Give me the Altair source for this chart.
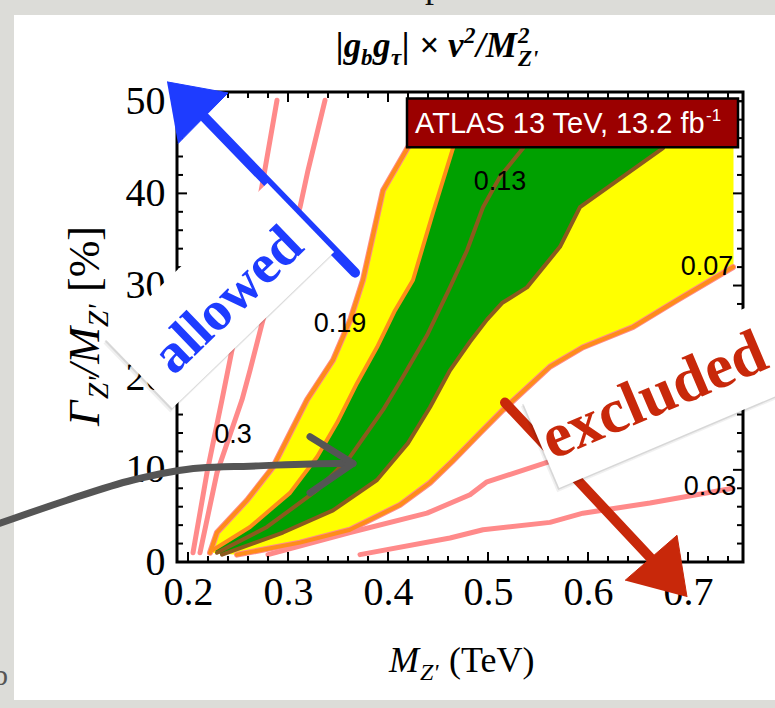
import altair as alt
import pandas as pd

# ---------------- plot geometry ----------------
W, H = 566, 470                 # plot area in px
PAD = {"left": 177, "top": 92, "right": 32, "bottom": 146}
X_DOMAIN = [0.189, 0.755]       # M_Z' [TeV]
Y_DOMAIN = [0.0, 51.0]          # Gamma_Z'/M_Z' [%]

SERIF = "Liberation Serif"
SANS = "Liberation Sans"
YELLOW, GREEN = "#FFFF00", "#00A000"
ORANGE, BROWN, PINK = "#FF8C1A", "#8B5A1E", "#FF8A8A"
BLUE, RED, GREY = "#1E3CFF", "#C8280A", "#555555"

# ---------------- contour traces ----------------
# steep contours on the low-mass side
steep_a_x = [0.205, 0.219, 0.234, 0.244, 0.275, 0.289]
steep_a_y = [1.0, 9.7, 17.6, 23.0, 41.4, 50.1]
steep_b_x = [0.212, 0.229, 0.254, 0.262, 0.280, 0.312, 0.320, 0.337]
steep_b_y = [1.0, 9.7, 17.6, 20.8, 28.4, 38.5, 42.5, 50.1]
# shallow contours on the high-mass side
low_c_x = [0.280, 0.362, 0.439, 0.482, 0.499, 0.559, 0.745]
low_c_y = [0.8, 3.2, 5.3, 7.3, 8.7, 10.8, 17.5]
low_d_x = [0.372, 0.462, 0.495, 0.562, 0.595, 0.662, 0.745]
low_d_y = [0.8, 2.6, 3.5, 4.3, 5.3, 6.4, 8.0]

# outer (yellow) band edges
outer_hi_x = [0.222, 0.229, 0.259, 0.285, 0.319, 0.345, 0.362, 0.375, 0.395, 0.420]
outer_hi_y = [1.0, 3.2, 6.7, 10.3, 17.6, 21.9, 26.2, 30.6, 40.3, 45.0]
outer_lo_x = [0.249, 0.312, 0.362, 0.412, 0.442, 0.464, 0.492, 0.515, 0.562, 0.595, 0.645, 0.689, 0.745]
outer_lo_y = [0.8, 2.1, 3.5, 6.2, 8.6, 10.9, 14.0, 16.5, 21.2, 23.3, 25.5, 28.4, 32.0]
# inner (green) band edges
inner_hi_x = [0.225, 0.262, 0.302, 0.329, 0.349, 0.369, 0.389, 0.407, 0.425, 0.445, 0.465]
inner_hi_y = [1.3, 3.8, 7.5, 11.4, 15.1, 19.4, 23.3, 27.3, 30.6, 37.9, 44.9]
inner_lo_x = [0.234, 0.295, 0.345, 0.389, 0.420, 0.442, 0.462, 0.482, 0.499, 0.514, 0.539, 0.572, 0.592, 0.675]
inner_lo_y = [0.8, 3.2, 5.6, 8.9, 12.9, 16.8, 20.8, 23.9, 26.3, 28.1, 29.8, 34.2, 38.5, 44.9]
# central contour
central_x = [0.229, 0.279, 0.329, 0.362, 0.395, 0.415, 0.439, 0.462, 0.479, 0.495, 0.512, 0.535]
central_y = [1.0, 3.8, 7.8, 11.4, 16.5, 20.1, 24.6, 29.8, 33.8, 38.5, 41.8, 44.9]
band_top, band_right = 45.0, 0.745

# contour value labels
label_text = ["0.3", "0.19", "0.13", "0.07", "0.03"]
label_x = [0.245, 0.352, 0.512, 0.719, 0.722]
label_y = [13.8, 25.8, 41.2, 32.0, 8.1]

# axis ticks
x_major = [0.2, 0.3, 0.4, 0.5, 0.6, 0.7]
x_minor = [0.22, 0.24, 0.26, 0.28, 0.32, 0.34, 0.36, 0.38, 0.42, 0.44, 0.46, 0.48,
           0.52, 0.54, 0.56, 0.58, 0.62, 0.64, 0.66, 0.68, 0.72, 0.74]
y_major = [10, 20, 30, 40, 50]
y_minor = [2, 4, 6, 8, 12, 14, 16, 18, 22, 24, 26, 28, 32, 34, 36, 38, 42, 44, 46, 48, 50]

# experiment tag
tag_x = [0.419, 0.750]
tag_y = [45.0, 50.3]

# hand-drawn annotations
blue_shaft_x = [0.367, 0.217]
blue_shaft_y = [31.4, 48.2]
blue_head_x = [0.179, 0.240, 0.190]
blue_head_y = [52.1, 50.9, 45.4]
red_shaft_x = [0.517, 0.662]
red_shaft_y = [17.3, 0.5]
red_head_x = [0.637, 0.689, 0.699]
red_head_y = [-2.0, 2.9, -3.8]
grey_shaft_x = [0.012, 0.079, 0.145, 0.212, 0.262, 0.349, 0.365]
grey_shaft_y = [4.2, 6.7, 8.9, 10.2, 10.4, 10.7, 10.7]
grey_chevron_x = [0.322, 0.365, 0.322]
grey_chevron_y = [13.6, 10.7, 7.5]
allowed_at = (0.2318, 28.9)
allowed_text_at = (0.240, 28.4)
excluded_at = (0.6773, 18.4)
excluded_text_at = (0.666, 18.0)

# ---------------- helpers ----------------
xscale = alt.Scale(domain=X_DOMAIN, nice=False, zero=False)
yscale = alt.Scale(domain=Y_DOMAIN, nice=False, zero=False)
xaxis = alt.Axis(values=x_major, format=".1f", title=None, ticks=False, domain=False,
                 grid=False, labelFont=SERIF, labelFontSize=40, labelColor="black",
                 labelPadding=10, labelOverlap=False, labelFlush=False)
yaxis = alt.Axis(values=[0] + y_major, format="d", title=None, ticks=False, domain=False,
                 grid=False, labelFont=SERIF, labelFontSize=40, labelColor="black",
                 labelPadding=12, labelOverlap=False, labelFlush=False)


def xy(xf="x", yf="y"):
    return dict(x=alt.X(f"{xf}:Q", scale=xscale, axis=xaxis),
                y=alt.Y(f"{yf}:Q", scale=yscale, axis=yaxis))


def pts(xs, ys):
    return pd.DataFrame({"x": xs, "y": ys, "i": list(range(len(xs)))})


ONE = pd.DataFrame({"k": [0]})


def curve(xs, ys, color, width, interpolate="linear"):
    return alt.Chart(pts(xs, ys)).mark_line(
        color=color, strokeWidth=width, strokeCap="round", strokeJoin="round",
        interpolate=interpolate
    ).encode(**xy(), order="i:Q")


def polygon(xs, ys, color):
    return alt.Chart(pts(xs, ys)).mark_line(
        color=color, fill=color, strokeWidth=1, strokeJoin="round"
    ).encode(**xy(), order="i:Q")


def tick_layer(vals, length, side):
    if side in ("bottom", "top"):
        df = pd.DataFrame({"x": vals})
        y0 = H if side == "bottom" else 0
        y1 = H - length if side == "bottom" else length
        return alt.Chart(df).mark_rule(color="black", strokeWidth=2).encode(
            x=alt.X("x:Q", scale=xscale, axis=xaxis), y=alt.value(y0), y2=alt.value(y1))
    df = pd.DataFrame({"y": vals})
    x0 = 0 if side == "left" else W
    x1 = length if side == "left" else W - length
    return alt.Chart(df).mark_rule(color="black", strokeWidth=2).encode(
        y=alt.Y("y:Q", scale=yscale, axis=yaxis), x=alt.value(x0), x2=alt.value(x1))


def run(text, px, py, dx=0, dy=0, size=30, style="normal", weight="normal",
        angle=0, font=SERIF, color="black"):
    return alt.Chart(ONE).mark_text(
        text=text, align="left", baseline="alphabetic", dx=dx, dy=dy, fontSize=size,
        font=font, fontStyle=style, fontWeight=weight, angle=angle, color=color
    ).encode(x=alt.value(px), y=alt.value(py))


def strip(x0, x1, y0, y1, color="#DCDCD8"):
    return alt.Chart(ONE).mark_rect(color=color).encode(
        x=alt.value(x0), x2=alt.value(x1), y=alt.value(y0), y2=alt.value(y1))


def card(at, w, h, angle, color="white", opacity=1.0, shift=(0.0, 0.0)):
    r = h / w
    path = f"M-1,-{r:.4f}L1,-{r:.4f}L1,{r:.4f}L-1,{r:.4f}Z"
    df = pd.DataFrame({"x": [at[0] + shift[0]], "y": [at[1] + shift[1]]})
    return alt.Chart(df).mark_point(
        shape=path, size=w * w, angle=angle, filled=True, color=color,
        opacity=opacity, strokeWidth=0
    ).encode(**xy())


# ---------------- layers ----------------
layers = []

# page behind the white sheet
layers += [strip(-177, -163, -92, 616), strip(-177, 598, -92, -77), strip(-177, 598, 608, 616)]
layers.append(run("p", 248, -95, size=36, color="#111111"))
layers.append(run("b", -184, 593, size=30, color="#555555"))

# bands
yellow_x = outer_hi_x + [band_right] + outer_lo_x[::-1]
yellow_y = outer_hi_y + [band_top] + outer_lo_y[::-1]
green_x = inner_hi_x + inner_lo_x[::-1]
green_y = inner_hi_y + inner_lo_y[::-1]
layers.append(polygon(yellow_x, yellow_y, YELLOW))
layers.append(polygon(green_x, green_y, GREEN))

# contour lines
for cx, cy in [(steep_a_x, steep_a_y), (steep_b_x, steep_b_y), (low_c_x, low_c_y), (low_d_x, low_d_y)]:
    layers.append(curve(cx, cy, PINK, 5))
layers.append(curve(outer_hi_x, outer_hi_y, PINK, 6))
layers.append(curve(outer_lo_x, outer_lo_y, PINK, 6))
layers.append(curve(outer_hi_x, outer_hi_y, ORANGE, 4))
layers.append(curve(outer_lo_x, outer_lo_y, ORANGE, 4))
layers.append(curve(inner_hi_x, inner_hi_y, ORANGE, 4))
layers.append(curve(inner_lo_x, inner_lo_y, BROWN, 4))
layers.append(curve(central_x, central_y, BROWN, 4))

# frame ticks
for side in ("bottom", "top"):
    layers.append(tick_layer(x_major, 10, side))
    layers.append(tick_layer(x_minor, 6, side))
for side in ("left", "right"):
    layers.append(tick_layer(y_major, 10, side))
    layers.append(tick_layer(y_minor, 6, side))

# contour labels
lab_df = pd.DataFrame({"x": label_x, "y": label_y, "t": label_text})
layers.append(alt.Chart(lab_df).mark_text(
    font=SANS, fontSize=27, color="black", align="center", baseline="middle"
).encode(**xy(), text="t:N"))

# experiment tag
tag_df = pd.DataFrame({"x0": [tag_x[0]], "x1": [tag_x[1]], "y0": [tag_y[0]], "y1": [tag_y[1]]})
layers.append(alt.Chart(tag_df).mark_rect(fill="#9B0000", stroke="black", strokeWidth=2.5).encode(
    x=alt.X("x0:Q", scale=xscale, axis=xaxis), x2="x1:Q",
    y=alt.Y("y0:Q", scale=yscale, axis=yaxis), y2="y1:Q"))
layers.append(run("ATLAS 13 TeV, 13.2 fb", 238, 41, size=29, font=SANS, color="white"))
layers.append(run("-1", 238, 41, dx=291, dy=-12, size=17, font=SANS, color="white"))

# annotations: grey arrow
layers.append(curve(grey_shaft_x, grey_shaft_y, GREY, 7, interpolate="monotone"))
layers.append(curve(grey_chevron_x, grey_chevron_y, GREY, 7))
# blue arrow
layers.append(curve(blue_shaft_x, blue_shaft_y, BLUE, 10))
layers.append(polygon(blue_head_x, blue_head_y, BLUE))
# red arrow
layers.append(curve(red_shaft_x, red_shaft_y, RED, 10))
layers.append(polygon(red_head_x, red_head_y, RED))

# "allowed" card with a soft shadow
layers.append(card(allowed_at, 225, 96, 316, color="black", opacity=0.06, shift=(-0.002, -0.45)))
layers.append(card(allowed_at, 225, 96, 316, color="black", opacity=0.10, shift=(-0.001, -0.22)))
layers.append(card(allowed_at, 225, 96, 316))
layers.append(alt.Chart(pd.DataFrame({"x": [allowed_text_at[0]], "y": [allowed_text_at[1]]})).mark_text(
    text="allowed", font=SERIF, fontSize=56, fontWeight="bold", color=BLUE, angle=316,
    align="center", baseline="middle").encode(**xy()))

# "excluded" card with a soft shadow
layers.append(card(excluded_at, 270, 93, 337, color="black", opacity=0.06, shift=(-0.002, -0.45)))
layers.append(card(excluded_at, 270, 93, 337, color="black", opacity=0.10, shift=(-0.001, -0.22)))
layers.append(card(excluded_at, 270, 93, 337))
layers.append(alt.Chart(pd.DataFrame({"x": [excluded_text_at[0]], "y": [excluded_text_at[1]]})).mark_text(
    text="excluded", font=SERIF, fontSize=63, fontWeight="bold", color=RED, angle=337,
    align="center", baseline="middle").encode(**xy()))

# title |g_b g_tau| x v^2 / M^2_Z'
tx, ty = 159, -35
bi = dict(style="italic", weight="bold")
layers += [
    run("|g", tx, ty, dx=0, size=35, **bi),
    run("b", tx, ty, dx=25, dy=8, size=23, **bi),
    run("g", tx, ty, dx=37, size=35, **bi),
    run("τ", tx, ty, dx=55, dy=8, size=23, **bi),
    run("|", tx, ty, dx=66, size=35, **bi),
    run("×", tx, ty, dx=83, size=35, **bi),
    run("v", tx, ty, dx=112, size=35, **bi),
    run("2", tx, ty, dx=128, dy=-14, size=23, **bi),
    run("/M", tx, ty, dx=140, size=35, **bi),
    run("2", tx, ty, dx=182, dy=-14, size=23, **bi),
    run("Z'", tx, ty, dx=182, dy=9, size=23, **bi),
]

# y title Gamma_Z'/M_Z' [%]
ax, ay = -78, 334
layers += [
    run("Γ", ax, ay, dx=0, size=44, style="italic", angle=270),
    run("Z'", ax, ay, dx=27, dy=9, size=29, style="italic", angle=270),
    run("/M", ax, ay, dx=50, size=44, style="italic", angle=270),
    run("Z'", ax, ay, dx=99, dy=9, size=29, style="italic", angle=270),
    run("[%]", ax, ay, dx=134, size=44, angle=270),
]

# x title M_Z' (TeV)
bx, by = 212, 580
layers += [
    run("M", bx, by, dx=0, size=36, style="italic"),
    run("Z'", bx, by, dx=31, dy=8, size=24, style="italic"),
    run("(TeV)", bx, by, dx=60, size=36),
]

chart = alt.layer(*layers).properties(
    width=W, height=H,
    autosize=alt.AutoSizeParams(type="none"),
    padding=PAD,
    background="white",
).configure_view(stroke="black", strokeWidth=3)

chart.save("out.html", embed_options={"renderer": "svg", "actions": False})
